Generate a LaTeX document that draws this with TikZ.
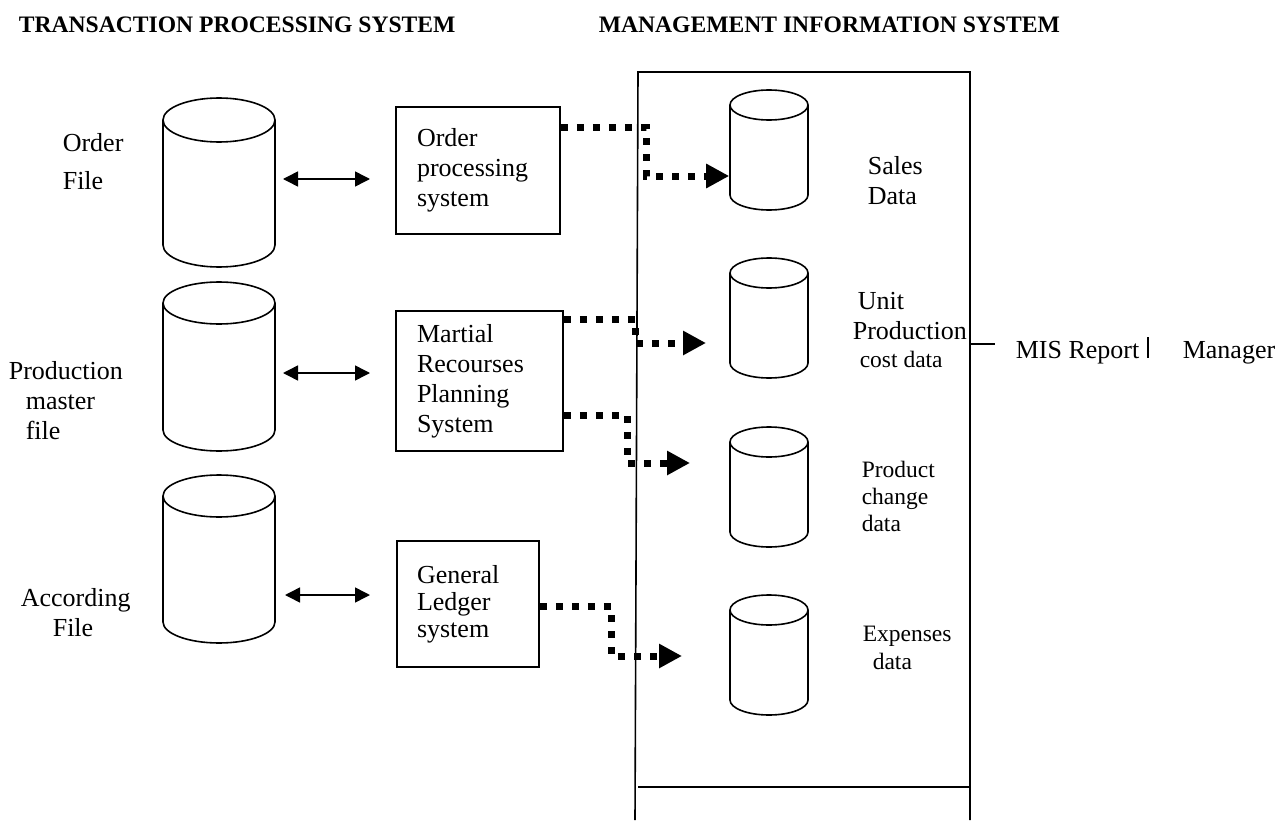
\documentclass[tikz,border=0pt]{standalone}
\usepackage{fontspec}
\setmainfont{Liberation Serif}
\usetikzlibrary{arrows.meta}
\newcommand\dbcyl[6]{%
  \node[inner sep=0pt, minimum width={2*#5}, minimum height={#4-#3}] (#1) at (#2,{(#3+#4)/2}) {};
  \draw[cylline] (#2-#5,#3+#6) -- (#2-#5,#4-#6) arc[start angle=180,end angle=0,x radius=#5,y radius=#6] -- (#2+#5,#3+#6);
  \draw[cylline] (#2,#3+#6) ellipse[x radius=#5,y radius=#6];
}
\begin{document}
\begin{tikzpicture}[x=1pt,y=-1pt,
  line width=1.6pt,
  cylline/.style={line width=1.6pt},
  box/.style={draw, line width=1.6pt, rectangle, align=left, inner ysep=0pt, font=\fontsize{26}{30}\selectfont},
  lbl/.style={inner sep=0pt, align=left, anchor=base west, font=\fontsize{26}{30}\selectfont},
  slbl/.style={inner sep=0pt, align=left, anchor=base west, font=\fontsize{23.5}{27}\selectfont},
  ttl/.style={inner sep=0pt, anchor=base west, font=\fontsize{23.6}{28}\selectfont\bfseries},
  dbl/.style={{Triangle[length=15pt,width=15pt]}-{Triangle[length=15pt,width=15pt]}, line width=1.5pt},
  flow/.style={line width=7pt, dash pattern=on 7pt off 9pt, -{Triangle[length=23pt,width=23pt]}},
]
\useasboundingbox (0,0) rectangle (1282,824);

% titles
\node[ttl] (t1) at (18,33) {TRANSACTION PROCESSING SYSTEM};
\node[ttl] (t2) at (598,33) {MANAGEMENT INFORMATION SYSTEM};

% left files
\dbcyl{c1}{219}{98}{267}{56}{22}
\dbcyl{c2}{219}{282}{451}{56}{21}
\dbcyl{c3}{219}{475}{643}{56}{21}

\node[lbl] (l1) at (62,189) {Order\\[8pt]File};
\node[lbl] (l2) at (8,439) {Production\\\hspace*{17pt}master\\\hspace*{17pt}file};
\node[lbl] (l3) at (20,636) {According\\\hspace*{32pt}File};

% systems
\node[box, minimum width=164pt, minimum height=127pt, text width=122pt, inner xsep=21pt] (ob) at (478,170.5) {Order\\processing\\system};
\node[box, minimum width=167pt, minimum height=140pt, text width=125pt, inner xsep=21pt] (mb) at (479.5,381) {Martial\\Recourses\\Planning\\System};
\node[box, minimum width=142pt, minimum height=126pt, text width=102pt, inner xsep=20pt, font=\fontsize{26}{27}\selectfont] (gb) at (468,604) {General\\Ledger\\system};

% double arrows
\coordinate (a1s) at (283,179); \coordinate (a1e) at (370,179);
\coordinate (a2s) at (283,373); \coordinate (a2e) at (370,373);
\coordinate (a3s) at (285,595); \coordinate (a3e) at (370,595);
\draw[dbl] (a1s) -- (a1e);
\draw[dbl] (a2s) -- (a2e);
\draw[dbl] (a3s) -- (a3e);

% MIS frame
\draw[line width=1.6pt] (635,820) -- (638,72) -- (970,72) -- (970,820);
\draw[line width=1.6pt] (638,787) -- (970,787);

% MIS data stores
\dbcyl{s1}{769}{90}{210}{39}{15}
\dbcyl{u1}{769}{258}{378}{39}{15}
\dbcyl{p1}{769}{427}{547}{39}{15}
\dbcyl{e1}{769}{595}{715}{39}{15}

\node[lbl] (r1) at (867,204) {Sales\\Data};
\node[lbl] (r2) at (852,367) {\hspace*{5pt}Unit\\Production\\[-2pt]\hspace*{7pt}{\fontsize{23.5}{27}\selectfont cost data}};
\node[slbl] (r3) at (861,531) {Product\\change\\data};
\node[slbl, font=\fontsize{23.5}{28}\selectfont] (r4) at (862,669) {Expenses\\\hspace*{10pt}data};

% dotted flows
\coordinate (f2e) at (706,343);
\coordinate (f3e) at (690,463);
\coordinate (f4e) at (682,656);
\draw[flow] ([yshift=-21pt]ob.north east) -| (646,176) -- (s1.west |- 0,176);
\draw[flow] ([yshift=-9pt]mb.north east) -| (635,343) -- (f2e);
\draw[flow] ([yshift=-105pt]mb.north east) -| (627,463) -- (f3e);
\draw[flow] ([yshift=-66pt]gb.north east) -| (611,656) -- (f4e);

% report
\coordinate (m1) at (970,344); \coordinate (m2) at (995,344);
\draw[line width=1.6pt] (m1) -- (m2);
\node[lbl] (rep) at (1015,358) {MIS Report};
\coordinate (b1) at (1148,337); \coordinate (b2) at (1148,358);
\draw[line width=2pt] (b1) -- (b2);
\node[lbl] (mgr) at (1182,358) {Manager};
\end{tikzpicture}
\end{document}
